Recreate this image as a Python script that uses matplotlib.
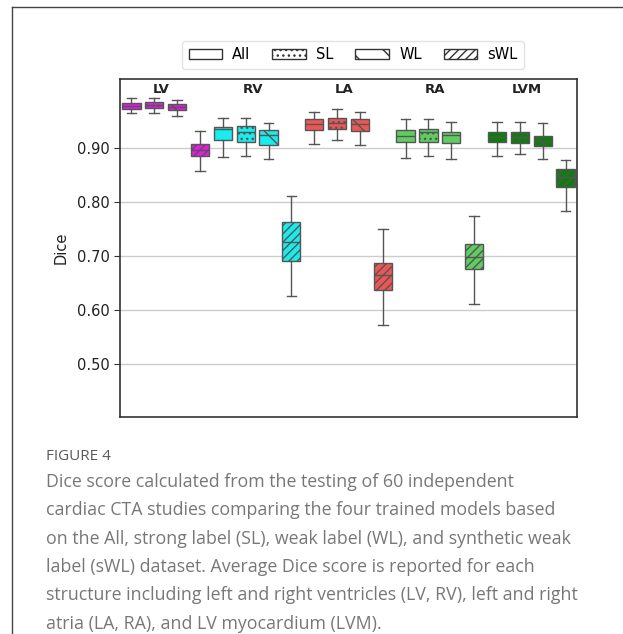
import matplotlib
matplotlib.use("Agg")
import matplotlib.pyplot as plt
from matplotlib.patches import Patch
from matplotlib.lines import Line2D

# structures and models
structures = ["LV", "RV", "LA", "RA", "LVM"]
models = ["All", "SL", "WL", "sWL"]

# box stats, order: LV(All,SL,WL,sWL), RV(...), LA, RA, LVM
whis_hi = [0.993, 0.992, 0.990, 0.932,
           0.956, 0.956, 0.946, 0.811,
           0.966, 0.972, 0.967, 0.750,
           0.953, 0.954, 0.948, 0.774,
           0.949, 0.948, 0.946, 0.878]
q3 = [0.983, 0.985, 0.982, 0.907,
      0.939, 0.941, 0.934, 0.764,
      0.953, 0.956, 0.953, 0.688,
      0.934, 0.936, 0.930, 0.722,
      0.929, 0.929, 0.923, 0.861]
med = [0.978, 0.980, 0.977, 0.896,
       0.935, 0.930, 0.924, 0.727,
       0.945, 0.947, 0.944, 0.665,
       0.923, 0.929, 0.925, 0.698,
       0.921, 0.920, 0.914, 0.846]
q1 = [0.972, 0.975, 0.971, 0.886,
      0.915, 0.911, 0.905, 0.691,
      0.934, 0.936, 0.932, 0.637,
      0.911, 0.911, 0.910, 0.676,
      0.912, 0.910, 0.904, 0.828]
whis_lo = [0.965, 0.965, 0.960, 0.857,
           0.883, 0.885, 0.880, 0.626,
           0.907, 0.915, 0.905, 0.572,
           0.881, 0.885, 0.880, 0.611,
           0.886, 0.889, 0.880, 0.783]

colors = ["#e619e6", "#19ecec", "#f05555", "#5fcd5f", "#0a800a"]
hatches = ["", "...", "\\", "////"]
yticks = [0.50, 0.60, 0.70, 0.80, 0.90]

fig = plt.figure(figsize=(6.23, 6.34), dpi=100)
ax = fig.add_axes([0.1926, 0.3423, 0.7335, 0.5331])

stats = []
for i in range(len(med)):
    stats.append({"med": med[i], "q1": q1[i], "q3": q3[i],
                  "whislo": whis_lo[i], "whishi": whis_hi[i], "fliers": []})

positions = list(range(1, len(stats) + 1))
edge = "#555555"
bp = ax.bxp(stats, positions=positions, widths=0.8, patch_artist=True,
            showfliers=False, capwidths=0.42,
            boxprops=dict(edgecolor=edge, linewidth=1.0),
            whiskerprops=dict(color=edge, linewidth=1.0),
            capprops=dict(color=edge, linewidth=1.0),
            medianprops=dict(color=edge, linewidth=1.0))

for i, box in enumerate(bp["boxes"]):
    box.set_facecolor(colors[i // 4])
    box.set_hatch(hatches[i % 4])

# group labels
for k, name in enumerate(structures):
    ax.text(2.3 + 4 * k, 1.009, name, ha="center", va="center",
            fontsize=9.5, fontweight="bold", color="#222222")

ax.set_xlim(0.5, 20.5)
ax.set_ylim(0.402, 1.028)
ax.set_yticks(yticks)
ax.set_yticklabels([f"{t:.2f}" for t in yticks], fontsize=10.5, color="#222222")
ax.set_xticks([])
ax.yaxis.grid(True, color="#cccccc", linewidth=1.0)
ax.set_axisbelow(True)
ax.set_ylabel("Dice", fontsize=10.5, color="#222222", labelpad=6)
ax.tick_params(axis="y", length=4, color="#333333")
for sp in ax.spines.values():
    sp.set_color("#333333")
    sp.set_linewidth(1.2)

handles = [Patch(facecolor="white", edgecolor="#333333", hatch=h, label=m)
           for m, h in zip(models, hatches)]
ax.legend(handles=handles, loc="center", bbox_to_anchor=(0.51, 1.071),
          ncol=4, fontsize=10.5, frameon=True, handlelength=2.3,
          columnspacing=1.5, handletextpad=0.7, edgecolor="#dddddd",
          borderpad=0.45)

# card border (left and top only visible)
fig.add_artist(Line2D([12 / 623, 12 / 623], [0, 1 - 7 / 634],
                      transform=fig.transFigure, color="#444444", linewidth=1.0))
fig.add_artist(Line2D([12 / 623, 1], [1 - 7 / 634, 1 - 7 / 634],
                      transform=fig.transFigure, color="#444444", linewidth=1.0))

# caption
fig.text(46 / 623, 1 - 457 / 634, "FIGURE 4", fontsize=11, color="#5a5a5a",
         family="Open Sans", va="center", ha="left")
caption = ("Dice score calculated from the testing of 60 independent\n"
           "cardiac CTA studies comparing the four trained models based\n"
           "on the All, strong label (SL), weak label (WL), and synthetic weak\n"
           "label (sWL) dataset. Average Dice score is reported for each\n"
           "structure including left and right ventricles (LV, RV), left and right\n"
           "atria (LA, RA), and LV myocardium (LVM).")
fig.text(46 / 623, 1 - 473 / 634, caption, fontsize=12.8, color="#777777",
         family="Open Sans", va="top", ha="left", linespacing=1.74)

fig.savefig("out.png", dpi=100)
